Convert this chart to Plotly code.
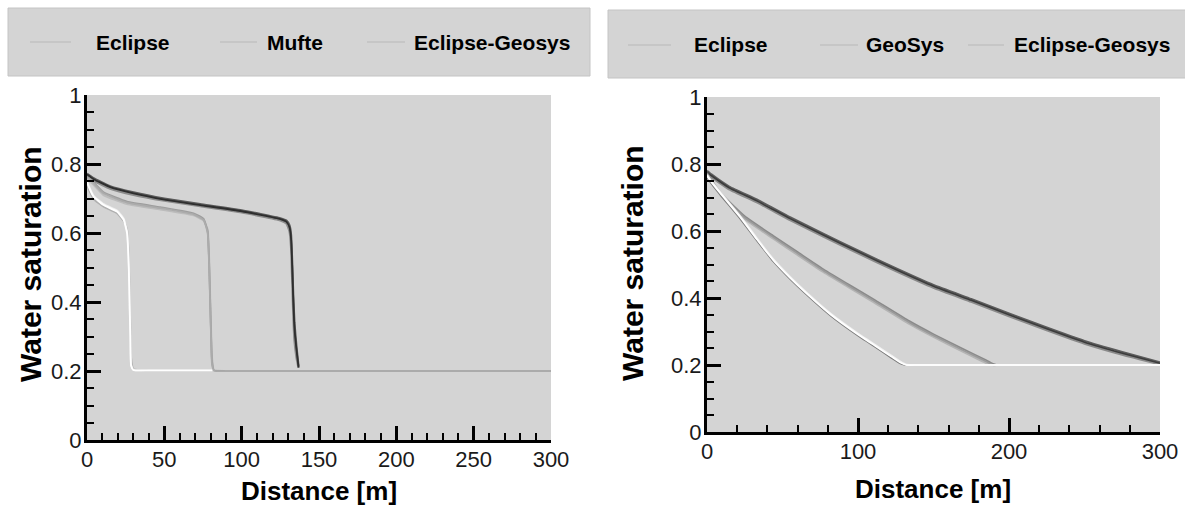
import plotly.graph_objects as go

W, H = 1185, 511

# ---------------- data: left panel (Eclipse / Mufte / Eclipse-Geosys) ----------------
left_series = ["Eclipse", "Mufte", "Eclipse-Geosys"]

left_t1_x = [0, 1, 4.3, 10.7, 19.4, 23.7, 25.9, 27, 27.5, 28, 28.5, 30, 40, 81]
left_t1_eclipse = [0.748, 0.735, 0.705, 0.681, 0.662, 0.638, 0.599, 0.50, 0.40, 0.30, 0.215, 0.203, 0.202, 0.202]
left_t1_mufte = [0.745, 0.728, 0.698, 0.676, 0.657, 0.635, 0.61, 0.53, 0.43, 0.33, 0.24, 0.205, 0.202, 0.202]
left_t1_eg = [0.75, 0.738, 0.708, 0.684, 0.665, 0.642, 0.605, 0.51, 0.41, 0.31, 0.22, 0.203, 0.202, 0.202]

left_t2_x = [0, 3.2, 10.7, 25.9, 47.4, 68.9, 75.4, 78, 79, 79.6, 80.2, 80.8, 82, 90, 300]
left_t2_eclipse = [0.76, 0.749, 0.715, 0.688, 0.672, 0.654, 0.638, 0.60, 0.50, 0.40, 0.30, 0.22, 0.201, 0.2, 0.2]
left_t2_mufte = [0.755, 0.744, 0.71, 0.684, 0.668, 0.651, 0.636, 0.61, 0.52, 0.42, 0.32, 0.24, 0.203, 0.2, 0.2]
left_t2_eg = [0.762, 0.752, 0.718, 0.691, 0.675, 0.657, 0.641, 0.605, 0.51, 0.41, 0.31, 0.23, 0.202, 0.2, 0.2]

left_t3_x = [0, 4.3, 15, 30.1, 50, 73.2, 100, 125, 129, 131, 132, 132.7, 133.4, 134.2, 135.5, 136.8]
left_t3_eclipse = [0.77, 0.756, 0.733, 0.715, 0.697, 0.681, 0.663, 0.640, 0.632, 0.615, 0.58, 0.50, 0.40, 0.32, 0.26, 0.21]
left_t3_mufte = [0.765, 0.752, 0.729, 0.711, 0.694, 0.678, 0.66, 0.637, 0.628, 0.605, 0.56, 0.47, 0.37, 0.29, 0.24, 0.21]
left_t3_eg = [0.772, 0.759, 0.736, 0.718, 0.700, 0.684, 0.666, 0.643, 0.636, 0.622, 0.595, 0.52, 0.42, 0.34, 0.27, 0.215]

# ---------------- data: right panel (Eclipse / GeoSys / Eclipse-Geosys) ----------------
right_series = ["Eclipse", "GeoSys", "Eclipse-Geosys"]

right_t1_x = [0, 3, 10, 22, 33, 44, 55, 66, 82, 99, 112, 122, 128, 132, 140, 300]
right_t1_eclipse = [0.765, 0.745, 0.706, 0.641, 0.575, 0.512, 0.46, 0.413, 0.35, 0.294, 0.255, 0.225, 0.207, 0.2, 0.2, 0.2]
right_t1_geosys = [0.76, 0.741, 0.702, 0.637, 0.572, 0.509, 0.457, 0.41, 0.347, 0.291, 0.252, 0.222, 0.205, 0.2, 0.2, 0.2]
right_t1_eg = [0.768, 0.748, 0.709, 0.644, 0.578, 0.515, 0.463, 0.416, 0.353, 0.297, 0.258, 0.228, 0.21, 0.201, 0.2, 0.2]

right_t2_x = [0, 5, 11, 25, 44, 60, 77, 95, 110, 134, 150, 170, 185, 189, 192]
right_t2_eclipse = [0.77, 0.735, 0.70, 0.64, 0.581, 0.533, 0.482, 0.433, 0.393, 0.327, 0.288, 0.243, 0.21, 0.201, 0.2]
right_t2_geosys = [0.765, 0.731, 0.696, 0.636, 0.577, 0.529, 0.478, 0.429, 0.389, 0.323, 0.284, 0.239, 0.206, 0.2, 0.2]
right_t2_eg = [0.773, 0.739, 0.704, 0.644, 0.585, 0.537, 0.486, 0.437, 0.397, 0.331, 0.292, 0.247, 0.214, 0.204, 0.2]

right_t3_x = [0, 3, 15, 33, 55, 77, 100, 125, 150, 175, 200, 225, 250, 275, 300]
right_t3_eclipse = [0.775, 0.765, 0.728, 0.69, 0.637, 0.588, 0.538, 0.485, 0.435, 0.393, 0.35, 0.308, 0.268, 0.235, 0.205]
right_t3_geosys = [0.77, 0.761, 0.724, 0.686, 0.633, 0.584, 0.534, 0.481, 0.431, 0.389, 0.346, 0.304, 0.264, 0.231, 0.202]
right_t3_eg = [0.78, 0.769, 0.732, 0.694, 0.641, 0.592, 0.542, 0.489, 0.439, 0.397, 0.354, 0.312, 0.272, 0.239, 0.208]

x_ticks_left = [0, 50, 100, 150, 200, 250, 300]
x_ticks_right = [0, 100, 200, 300]
y_ticks = [0, 0.2, 0.4, 0.6, 0.8, 1]

# ---------------- figure ----------------
fig = go.Figure()

def add(x, y, color, name, xa, ya, width=2.0):
    fig.add_trace(go.Scatter(x=x, y=y, mode="lines", name=name, showlegend=False,
                             line=dict(color=color, width=width, shape="spline", smoothing=0.4),
                             xaxis=xa, yaxis=ya, hoverinfo="x+y+name"))

# left panel, drawn back to front
add(left_t3_x, left_t3_mufte, "#8c8c8c", left_series[1], "x", "y", 2.5)
add(left_t3_x, left_t3_eg, "#5a5a5a", left_series[2], "x", "y", 2.0)
add(left_t3_x, left_t3_eclipse, "#2e2e2e", left_series[0], "x", "y", 1.8)
add(left_t2_x, left_t2_mufte, "#bcbcbc", left_series[1], "x", "y", 2.0)
add(left_t2_x, left_t2_eg, "#9c9c9c", left_series[2], "x", "y", 1.8)
add(left_t2_x, left_t2_eclipse, "#ababab", left_series[0], "x", "y", 1.8)
add(left_t1_x, left_t1_mufte, "#b0b0b0", left_series[1], "x", "y", 1.8)
add(left_t1_x, left_t1_eg, "#f0f0f0", left_series[2], "x", "y", 1.8)
add(left_t1_x, left_t1_eclipse, "#ffffff", left_series[0], "x", "y", 1.8)

# right panel
add(right_t3_x, right_t3_geosys, "#8a8a8a", right_series[1], "x2", "y2", 2.5)
add(right_t3_x, right_t3_eg, "#5c5c5c", right_series[2], "x2", "y2", 2.0)
add(right_t3_x, right_t3_eclipse, "#3c3c3c", right_series[0], "x2", "y2", 1.6)
add(right_t2_x, right_t2_geosys, "#b4b4b4", right_series[1], "x2", "y2", 2.2)
add(right_t2_x, right_t2_eg, "#8a8a8a", right_series[2], "x2", "y2", 1.8)
add(right_t2_x, right_t2_eclipse, "#9a9a9a", right_series[0], "x2", "y2", 1.6)
add(right_t1_x, right_t1_geosys, "#7a7a7a", right_series[1], "x2", "y2", 1.8)
add(right_t1_x, right_t1_eg, "#f2f2f2", right_series[2], "x2", "y2", 2.0)
add(right_t1_x, right_t1_eclipse, "#ffffff", right_series[0], "x2", "y2", 1.6)

FONT = "Liberation Sans, Arial, sans-serif"

def px(v):
    return v / W

def py(v):
    return 1 - v / H

axis_common = dict(showline=True, linecolor="black", linewidth=3, mirror=False,
                   ticks="inside", ticklen=14, tickwidth=3, tickcolor="black",
                   showgrid=False, zeroline=False, automargin=False,
                   tickfont=dict(family=FONT, size=22, color="#1a1a1a"))

fig.update_layout(
    autosize=True, margin=dict(l=0, r=0, t=0, b=0, pad=0, autoexpand=False),
    paper_bgcolor="white", plot_bgcolor="#d4d4d4",
    showlegend=False,
    xaxis=dict(domain=[px(87), px(551)], range=[0, 300], tickvals=x_ticks_left, anchor="y",
               ticklabelstandoff=-2,
               minor=dict(dtick=10, tick0=0, ticks="inside", ticklen=7, tickwidth=2, tickcolor="black"),
               **axis_common),
    yaxis=dict(domain=[py(440), py(95)], range=[0, 1], tickvals=y_ticks, anchor="x",
               ticklabelstandoff=-2,
               minor=dict(dtick=0.05, tick0=0, ticks="inside", ticklen=7, tickwidth=2, tickcolor="black"),
               **axis_common),
    xaxis2=dict(domain=[px(707), px(1160)], range=[0, 300], tickvals=x_ticks_right, anchor="y2",
                ticklabelstandoff=-2,
                minor=dict(dtick=20, tick0=0, ticks="inside", ticklen=7, tickwidth=2, tickcolor="black"),
                **axis_common),
    yaxis2=dict(domain=[py(432), py(97)], range=[0, 1], tickvals=y_ticks, anchor="x2",
                ticklabelstandoff=-2,
                minor=dict(dtick=0.05, tick0=0, ticks="inside", ticklen=7, tickwidth=2, tickcolor="black"),
                **axis_common),
)

shapes = []
annotations = []

# legend boxes
shapes.append(dict(type="rect", xref="paper", yref="paper", x0=px(8), x1=px(590), y0=py(76), y1=py(8),
                   fillcolor="#d4d4d4", line=dict(color="#c4c4c4", width=1), layer="below"))
shapes.append(dict(type="rect", xref="paper", yref="paper", x0=px(608), x1=px(1190), y0=py(78), y1=py(10),
                   fillcolor="#d4d4d4", line=dict(color="#c4c4c4", width=1), layer="below"))

legend_left = [(30, 71, 94), (220, 257, 265), (367, 405, 412)]
legend_right = [(628, 671, 692), (820, 858, 864), (968, 1004, 1012)]
for (a, b, t), name in zip(legend_left, left_series):
    shapes.append(dict(type="line", xref="paper", yref="paper", x0=px(a), x1=px(b), y0=py(42), y1=py(42),
                       line=dict(color="#c2c2c2", width=1.5)))
    annotations.append(dict(text="<b>%s</b>" % name, xref="paper", yref="paper", x=px(t), y=py(42),
                            xanchor="left", yanchor="middle", showarrow=False,
                            font=dict(family=FONT, size=21, color="black")))
for (a, b, t), name in zip(legend_right, right_series):
    shapes.append(dict(type="line", xref="paper", yref="paper", x0=px(a), x1=px(b), y0=py(45), y1=py(45),
                       line=dict(color="#c2c2c2", width=1.5)))
    annotations.append(dict(text="<b>%s</b>" % name, xref="paper", yref="paper", x=px(t), y=py(45),
                            xanchor="left", yanchor="middle", showarrow=False,
                            font=dict(family=FONT, size=21, color="black")))

# axis titles
for xc, yc in [(319, 491), (933, 489)]:
    annotations.append(dict(text="<b>Distance [m]</b>", xref="paper", yref="paper", x=px(xc), y=py(yc),
                            xanchor="center", yanchor="middle", showarrow=False,
                            font=dict(family=FONT, size=26, color="black")))
for xc, yc in [(30, 264), (632, 263)]:
    annotations.append(dict(text="<b>Water saturation</b>", xref="paper", yref="paper", x=px(xc), y=py(yc),
                            xanchor="center", yanchor="middle", showarrow=False, textangle=-90,
                            font=dict(family=FONT, size=30, color="black")))

fig.update_layout(shapes=shapes, annotations=annotations)

fig.write_html("out.html", config={"displayModeBar": False, "responsive": True},
               default_width="100vw", default_height="100vh",
               post_script="document.documentElement.style.margin='0';document.body.style.margin='0';"
                           "document.body.style.overflow='hidden';")
